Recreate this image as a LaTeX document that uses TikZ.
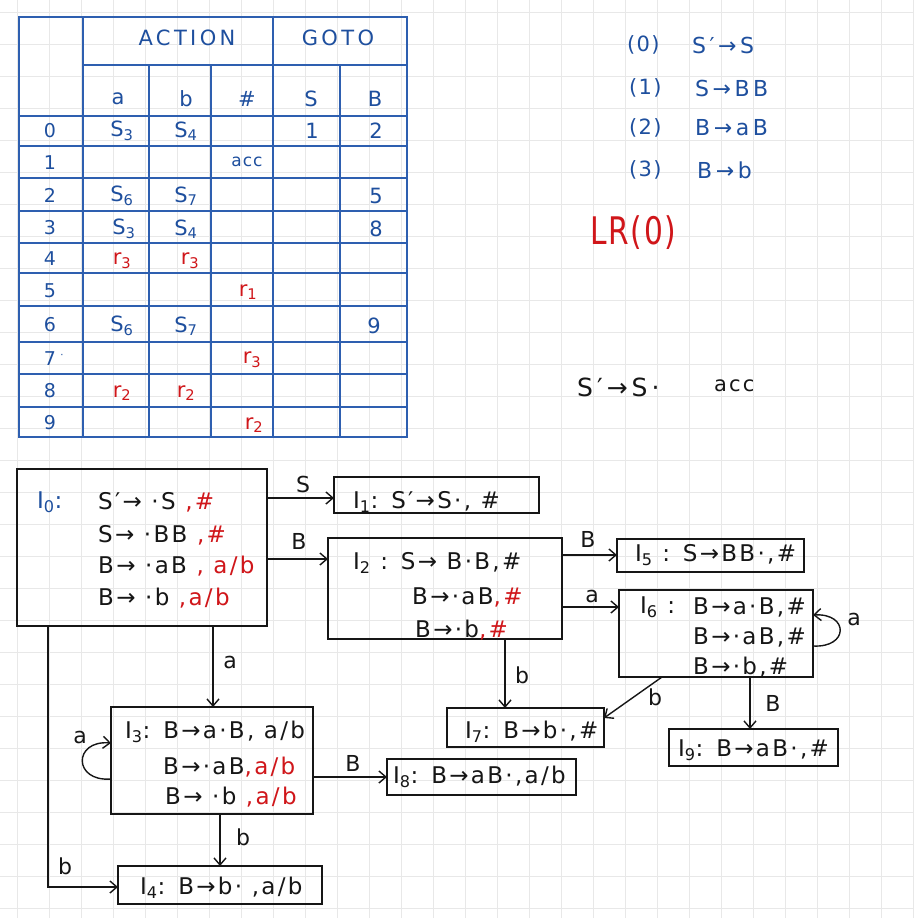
\documentclass[tikz,border=0pt]{standalone}
\usepackage{fontspec}
\setmainfont{DejaVu Sans}[LetterSpace=6]
\newfontfamily\hand{DejaVu Sans}[LetterSpace=10]
\newfontfamily\wide{DejaVu Sans}[LetterSpace=16]
\usetikzlibrary{arrows.meta}
\definecolor{tblue}{HTML}{2E5FB0}
\definecolor{inkblue}{HTML}{1E4F9E}
\definecolor{inkred}{HTML}{D0161A}
\definecolor{ink}{HTML}{161616}
\definecolor{gridc}{HTML}{E8E8E8}
\newcommand\rd[1]{\textcolor{inkred}{#1}}
\newcommand\Isub[1]{I\textsubscript{#1}}
\begin{document}
\begin{tikzpicture}[x=1pt,y=-1pt,
  box/.style={draw=ink, line width=1.4pt, inner sep=0pt, outer sep=0pt},
  txt/.style={anchor=west, inner sep=0pt, font=\hand\fontsize{23}{26}\selectfont, text=ink},
  lab/.style={inner sep=0pt, font=\hand\fontsize{22}{24}\selectfont, text=ink},
  edge/.style={draw=ink, line width=1.4pt, -{Straight Barb[length=7pt,width=12pt,line width=1.4pt]}},
  tline/.style={draw=tblue, line width=1.5pt},
  cell/.style={inner sep=0pt, font=\fontsize{21}{23}\selectfont, text=inkblue},
  rcell/.style={cell, text=inkred},
  gram/.style={inner sep=0pt, anchor=west, font=\wide\fontsize{22}{24}\selectfont, text=inkblue},
  gnum/.style={inner sep=0pt, anchor=west, font=\fontsize{21}{23}\selectfont, text=inkblue},
]
\useasboundingbox (0,0) rectangle (913,918);
\fill[white] (0,0) rectangle (913,918);
% grid paper
\foreach \gx in {17,49,...,913} \draw[gridc, line width=0.8pt] (\gx,0) -- (\gx,918);
\foreach \gy in {12.5,44.5,...,918} \draw[gridc, line width=0.8pt] (0,\gy) -- (913,\gy);

% ---------------- table ----------------
\draw[tline] (19,17) rectangle (407,437);
\draw[tline] (83,17) -- (83,437);
\draw[tline] (273,17) -- (273,437);
\foreach \vx in {149,211,340} \draw[tline] (\vx,65) -- (\vx,437);
\draw[tline] (83,65) -- (407,65);
\foreach \hy in {116,146,178,211,243,273,306,342,374,407} \draw[tline] (19,\hy) -- (407,\hy);

\node[cell, font=\wide\fontsize{21}{23}\selectfont] (hAct) at (187,38) {ACTION};
\node[cell, font=\wide\fontsize{21}{23}\selectfont] (hGoto) at (338,38) {GOTO};
\node[cell] (ha) at (118,99) {a};
\node[cell] (hb) at (186,99) {b};
\node[cell] (hh) at (247,99) {\#};
\node[cell] (hS2) at (311,99) {S};
\node[cell] (hB2) at (375,99) {B};

\foreach \n/\ry in {0/131,1/163,2/195,3/228,4/259,5/291,6/325,7/359,8/391,9/423}
  \node[cell, font=\fontsize{19}{21}\selectfont] (row\n) at (50,\ry) {\n};
\node[cell, font=\fontsize{10}{10}\selectfont] (row7dot) at (62,356) {·};

% row 0
\node[cell] (c0a) at (122,131) {S\textsubscript{3}};
\node[cell] (c0b) at (186,131) {S\textsubscript{4}};
\node[cell] (c0S) at (312,131) {1};
\node[cell] (c0B) at (376,131) {2};
% row 1
\node[cell, font=\fontsize{17}{19}\selectfont] (c1h) at (247,162) {acc};
% row 2
\node[cell] (c2a) at (122,196) {S\textsubscript{6}};
\node[cell] (c2b) at (186,196) {S\textsubscript{7}};
\node[cell] (c2B) at (376,196) {5};
% row 3
\node[cell] (c3a) at (124,229) {S\textsubscript{3}};
\node[cell] (c3b) at (186,229) {S\textsubscript{4}};
\node[cell] (c3B) at (376,229) {8};
% row 4
\node[rcell] (c4a) at (122,261) {r\textsubscript{3}};
\node[rcell] (c4b) at (190,261) {r\textsubscript{3}};
% row 5
\node[rcell] (c5h) at (248,292) {r\textsubscript{1}};
% row 6
\node[cell] (c6a) at (122,326) {S\textsubscript{6}};
\node[cell] (c6b) at (186,326) {S\textsubscript{7}};
\node[cell] (c6B) at (374,326) {9};
% row 7
\node[rcell] (c7h) at (252,360) {r\textsubscript{3}};
% row 8
\node[rcell] (c8a) at (122,393) {r\textsubscript{2}};
\node[rcell] (c8b) at (186,393) {r\textsubscript{2}};
% row 9
\node[rcell] (c9h) at (254,425) {r\textsubscript{2}};

% ---------------- grammar ----------------
\node[gnum] (g0n) at (627,45) {(0)};
\node[gram] (g0) at (692,45) {S′→S};
\node[gnum] (g1n) at (629,88) {(1)};
\node[gram] (g1) at (695,88) {S→BB};
\node[gnum] (g2n) at (629,128) {(2)};
\node[gram] (g2) at (695,128) {B→aB};
\node[gnum] (g3n) at (629,170) {(3)};
\node[gram] (g3) at (697,170) {B→b};
\node[inner sep=0pt, anchor=west, font=\fontsize{38}{40}\selectfont, text=inkred] (lr0) at (590,233) {\scalebox{0.78}[1]{LR(0)}};
\node[txt, font=\wide\fontsize{25}{27}\selectfont] (accS) at (577,387) {S′→S·};
\node[txt, font=\hand\fontsize{21}{23}\selectfont] (accW) at (714,386) {acc};

% ---------------- state boxes ----------------
\node[box, minimum width=250pt, minimum height=157pt] (I0) at (142,547.5) {};
\node[box, minimum width=205pt, minimum height=36pt] (I1) at (436.5,495) {};
\node[box, minimum width=234pt, minimum height=101pt] (I2) at (445,588.5) {};
\node[box, minimum width=187pt, minimum height=33pt] (I5) at (710.5,555.5) {};
\node[box, minimum width=194pt, minimum height=87pt] (I6) at (716,633.5) {};
\node[box, minimum width=169pt, minimum height=37pt] (I9) at (753.5,747.5) {};
\node[box, minimum width=157pt, minimum height=39pt] (I7) at (525.5,727.5) {};
\node[box, minimum width=189pt, minimum height=36pt] (I8) at (481.5,777) {};
\node[box, minimum width=202pt, minimum height=107pt] (I3) at (212,760.5) {};
\node[box, minimum width=204pt, minimum height=38pt] (I4) at (220,885) {};

% I0 text
\node[txt, text=inkblue] (t0l) at (37,502) {\Isub{0}:};
\node[txt] (t01) at (98,502) {S′→ ·S \rd{,\#}};
\node[txt] (t02) at (98,535) {S→ ·BB \rd{,\#}};
\node[txt] (t03) at (98,566) {B→ ·aB \rd{, a/b}};
\node[txt] (t04) at (98,598) {B→ ·b \rd{,a/b}};
% I1
\node[txt] (t1) at (353,502) {\Isub{1}: S′→S·, \#};
% I2
\node[txt] (t21) at (353,563) {\Isub{2} : S→ B·B,\#};
\node[txt] (t22) at (412,597) {B→·aB\rd{,\#}};
\node[txt] (t23) at (415,630) {B→·b\rd{,\#}};
% I5
\node[txt] (t5) at (635,555) {\Isub{5} : S→BB·,\#};
% I6
\node[txt] (t6l) at (640,607) {\Isub{6} :};
\node[txt] (t61) at (693,607) {B→a·B,\#};
\node[txt] (t62) at (693,637) {B→·aB,\#};
\node[txt] (t63) at (693,667) {B→·b,\#};
% I7
\node[txt] (t7) at (465,732) {\Isub{7}: B→b·,\#};
% I8
\node[txt] (t8) at (393,777) {\Isub{8}: B→aB·,a/b};
% I9
\node[txt] (t9) at (678,750) {\Isub{9}: B→aB·,\#};
% I3
\node[txt] (t31) at (125,732) {\Isub{3}: B→a·B, a/b};
\node[txt] (t32) at (163,767) {B→·aB\rd{,a/b}};
\node[txt] (t33) at (165,797) {B→ ·b \rd{,a/b}};
% I4
\node[txt] (t4) at (140,888) {\Isub{4}: B→b· ,a/b};

% ---------------- connectors ----------------
\coordinate (hS) at (0,498);
\coordinate (hB) at (0,559);
\coordinate (h5) at (0,555);
\coordinate (h6) at (0,607);
\coordinate (h8) at (0,777);
\coordinate (v7) at (505,0);
\coordinate (v3) at (213,0);
\coordinate (v4) at (220,0);
\coordinate (v9) at (750,0);
\coordinate (d6) at (662,0);
\coordinate (d7) at (0,718);
\coordinate (v04) at (48,0);
\coordinate (h04) at (0,887);
\coordinate (l6a) at (0,646);
\coordinate (l6b) at (0,615);
\coordinate (l3a) at (0,779);
\coordinate (l3b) at (0,743);

\draw[edge] (I0.east |- hS) -- (I1.west |- hS);
\draw[edge] (I0.east |- hB) -- (I2.west |- hB);
\draw[edge] (I2.east |- h5) -- (I5.west |- h5);
\draw[edge] (I2.east |- h6) -- (I6.west |- h6);
\draw[edge] (I2.south -| v7) -- (I7.north -| v7);
\draw[edge] (I0.south -| v3) -- (I3.north -| v3);
\draw[edge] (I3.south -| v4) -- (I4.north -| v4);
\draw[edge] (I3.east |- h8) -- (I8.west |- h8);
\draw[edge] (I6.south -| v9) -- (I9.north -| v9);
\draw[edge] (I6.south -| d6) -- (I7.east |- d7);
\draw[edge] (I0.south -| v04) |- (I4.west |- h04);
\draw[edge] (I6.east |- l6a) .. controls +(36,2) and +(36,-2) .. (I6.east |- l6b);
\draw[edge] (I3.west |- l3a) .. controls +(-38,3) and +(-38,-3) .. (I3.west |- l3b);

% edge labels
\node[lab] (eS) at (303,484) {S};
\node[lab] (eB0) at (299,541) {B};
\node[lab] (eB5) at (588,539) {B};
\node[lab] (ea6) at (592,596) {a};
\node[lab] (ea66) at (854,619) {a};
\node[lab] (eb67) at (655,697) {b};
\node[lab] (eB69) at (773,703) {B};
\node[lab] (eb27) at (522,675) {b};
\node[lab] (ea03) at (230,662) {a};
\node[lab] (ea33) at (80,737) {a};
\node[lab] (eB38) at (353,763) {B};
\node[lab] (eb34) at (243,837) {b};
\node[lab] (eb04) at (65,866) {b};
\end{tikzpicture}
\end{document}
